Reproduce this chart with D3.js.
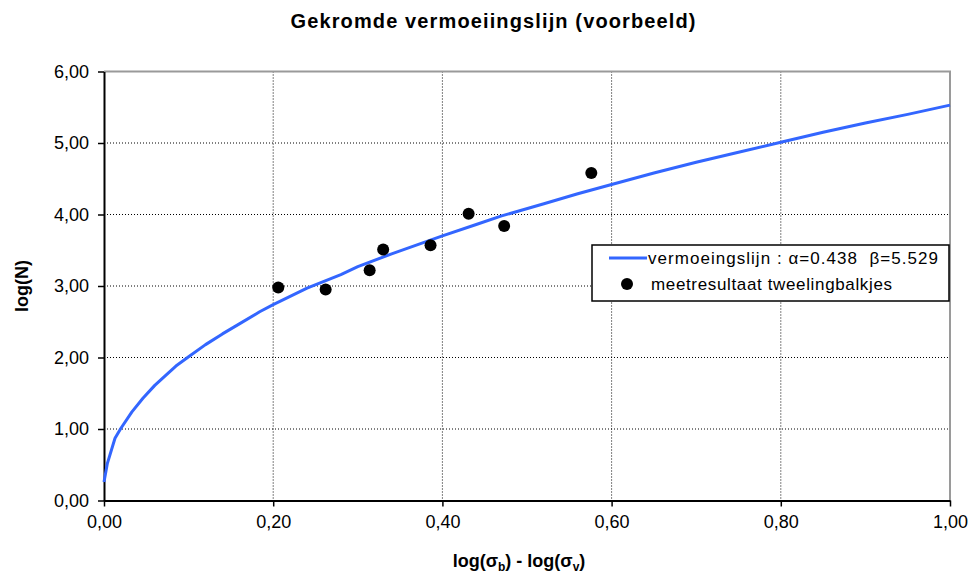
<!DOCTYPE html>
<html>
<head>
<meta charset="utf-8">
<script src="https://cdn.jsdelivr.net/npm/d3@7"></script>
<style>
  body { margin: 0; background: #fff; }
  svg { display: block; font-family: "Liberation Sans", Arial, sans-serif; }
</style>
</head>
<body>
<script>
// curve (log(sb)-log(sv) , log(N))
const curveX = [0, 0.004, 0.013, 0.02, 0.033, 0.046, 0.06, 0.071, 0.085, 0.10, 0.12, 0.14, 0.16, 0.184, 0.20,
                0.24, 0.28, 0.30, 0.34, 0.40, 0.44, 0.47, 0.52, 0.56, 0.60, 0.65, 0.70, 0.75, 0.80, 0.85, 0.90, 0.95, 1.00];
const curveY = [0.26, 0.52, 0.87, 1.01, 1.24, 1.43, 1.61, 1.73, 1.88, 2.01, 2.18, 2.33, 2.47, 2.64, 2.74,
                2.97, 3.16, 3.27, 3.45, 3.70, 3.86, 3.98, 4.15, 4.29, 4.42, 4.58, 4.73, 4.87, 5.01, 5.15, 5.28, 5.40, 5.53];
// measured points
const pointX = [0.206, 0.262, 0.314, 0.330, 0.386, 0.431, 0.473, 0.576];
const pointY = [2.98, 2.95, 3.22, 3.51, 3.57, 4.01, 3.84, 4.58];

const xTicks = [0, 0.2, 0.4, 0.6, 0.8, 1.0];
const yTicks = [0, 1, 2, 3, 4, 5, 6];

const w = 970, h = 574;
const pLeft = 104, pRight = 950, pTop = 71.5, pBottom = 500.5;

const fmt = d => d3.format('.2f')(d).replace('.', ',');

const x = d3.scaleLinear().domain([0, 1]).range([pLeft, pRight]);
const y = d3.scaleLinear().domain([0, 6]).range([pBottom, pTop]);

const svg = d3.select('body').append('svg')
  .attr('width', w)
  .attr('height', h);

// grid
svg.append('g')
  .selectAll('line')
  .data(xTicks.slice(1, -1))
  .join('line')
  .attr('x1', d => x(d)).attr('x2', d => x(d))
  .attr('y1', pTop).attr('y2', pBottom)
  .attr('stroke', '#000').attr('stroke-dasharray', '1,2');
svg.append('g')
  .selectAll('line')
  .data(yTicks.slice(1, -1))
  .join('line')
  .attr('x1', pLeft).attr('x2', pRight)
  .attr('y1', d => y(d)).attr('y2', d => y(d))
  .attr('stroke', '#000').attr('stroke-dasharray', '1,2');

// gray frame top/right
svg.append('path')
  .attr('d', `M${pLeft},${pTop}H${pRight}V${pBottom}`)
  .attr('fill', 'none').attr('stroke', '#9a9a9a').attr('stroke-width', 2);

// axes
const xAxis = d3.axisBottom(x).tickValues(xTicks).tickFormat(fmt).tickSize(6).tickSizeOuter(0).tickPadding(9);
const yAxis = d3.axisLeft(y).tickValues(yTicks).tickFormat(fmt).tickSize(6).tickSizeOuter(0).tickPadding(9);

const gx = svg.append('g')
  .attr('transform', 'translate(0,' + pBottom + ')')
  .call(xAxis);
const gy = svg.append('g')
  .attr('transform', 'translate(' + pLeft + ',0)')
  .call(yAxis);

[gx, gy].forEach(g => {
  g.select('.domain').attr('stroke', '#000').attr('stroke-width', 2);
  g.selectAll('.tick line').attr('stroke', '#000').attr('stroke-width', 1.5);
  g.selectAll('.tick text')
    .attr('fill', '#000')
    .style('font-size', '18px')
    .style('font-family', '"Liberation Sans", Arial, sans-serif');
});

// curve
const line = d3.line()
  .x((d, i) => x(curveX[i]))
  .y((d, i) => y(curveY[i]));

svg.append('path')
  .datum(curveY)
  .attr('d', line)
  .attr('fill', 'none')
  .attr('stroke', '#3366ff')
  .attr('stroke-width', 3)
  .attr('stroke-linejoin', 'round');

// points
svg.append('g')
  .selectAll('circle')
  .data(pointX)
  .join('circle')
  .attr('cx', d => x(d))
  .attr('cy', (d, i) => y(pointY[i]))
  .attr('r', 6)
  .attr('fill', '#000');

// title
svg.append('text')
  .attr('x', 493).attr('y', 28)
  .attr('text-anchor', 'middle')
  .attr('font-weight', 'bold')
  .attr('font-size', 20)
  .attr('textLength', 405)
  .attr('lengthAdjust', 'spacing')
  .text('Gekromde vermoeiingslijn (voorbeeld)');

// axis titles
const xt = svg.append('text')
  .attr('x', 519).attr('y', 567)
  .attr('text-anchor', 'middle')
  .attr('font-weight', 'bold')
  .attr('font-size', 18);
xt.append('tspan').text('log(σ');
xt.append('tspan').attr('font-size', 12).attr('dy', 4).text('b');
xt.append('tspan').attr('dy', -4).text(') - log(σ');
xt.append('tspan').attr('font-size', 12).attr('dy', 4).text('v');
xt.append('tspan').attr('dy', -4).text(')');

svg.append('text')
  .attr('transform', 'translate(28,286)rotate(-90)')
  .attr('text-anchor', 'middle')
  .attr('font-weight', 'bold')
  .attr('font-size', 18)
  .text('log(N)');

// legend
const lg = svg.append('g');
lg.append('rect')
  .attr('x', 592).attr('y', 245)
  .attr('width', 357).attr('height', 56)
  .attr('fill', '#fff').attr('stroke', '#000').attr('stroke-width', 1.5);
lg.append('line')
  .attr('x1', 609).attr('x2', 647)
  .attr('y1', 258).attr('y2', 258)
  .attr('stroke', '#3366ff').attr('stroke-width', 3);
lg.append('text')
  .attr('x', 648).attr('y', 264)
  .attr('font-size', 17)
  .attr('textLength', 290)
  .attr('lengthAdjust', 'spacing')
  .text('vermoeingslijn : α=0.438\u00a0\u00a0β=5.529');
lg.append('circle')
  .attr('cx', 627).attr('cy', 284).attr('r', 6).attr('fill', '#000');
lg.append('text')
  .attr('x', 651).attr('y', 290)
  .attr('font-size', 17)
  .attr('textLength', 241)
  .attr('lengthAdjust', 'spacing')
  .text('meetresultaat tweelingbalkjes');
</script>
</body>
</html>
